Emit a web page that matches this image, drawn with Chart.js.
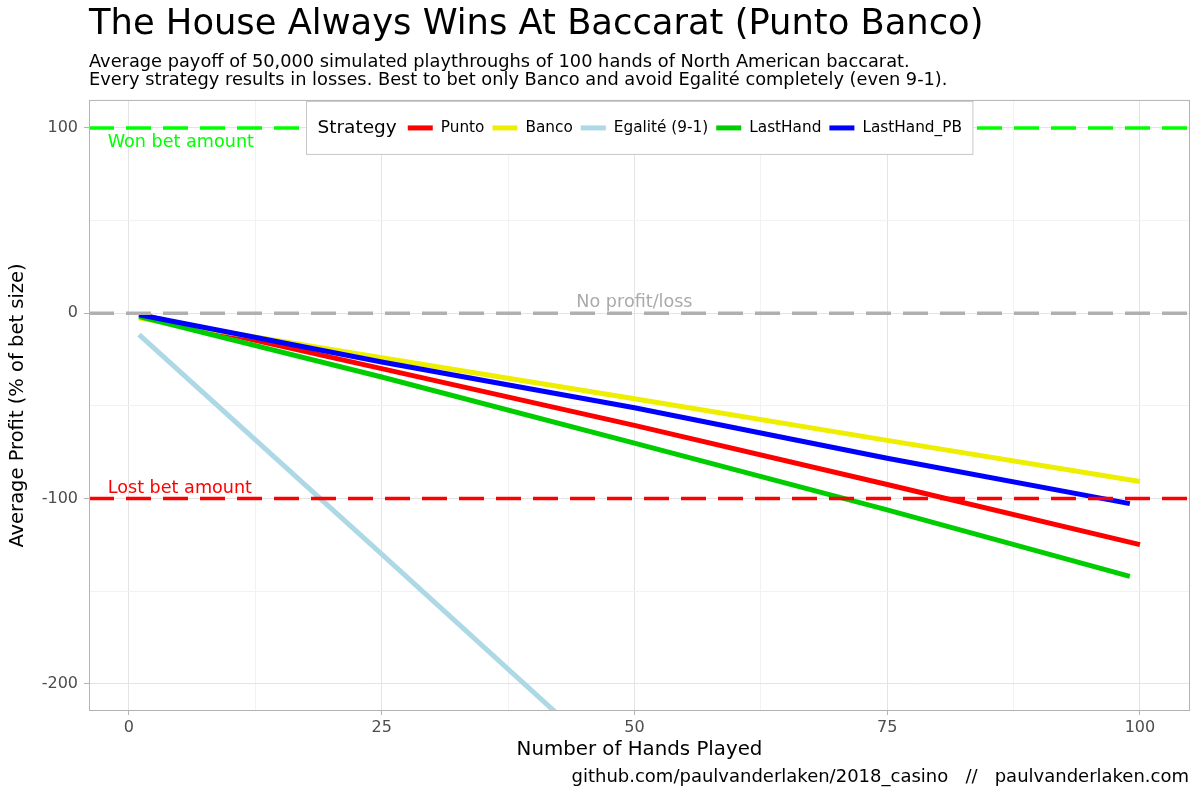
<!DOCTYPE html>
<html>
<head>
<meta charset="utf-8">
<script src="https://cdn.jsdelivr.net/npm/chart.js@4.4.1/dist/chart.umd.min.js"></script>
<style>
  html, body { margin: 0; padding: 0; background: #fff; }
  canvas { display: block; }
</style>
</head>
<body>
<canvas id="casino" width="1200" height="800"></canvas>
<script>
// strategies and their average profit (% of bet size)
const strategies = ['Punto', 'Banco', 'Egalité (9-1)', 'LastHand', 'LastHand_PB'];
const handsFull = [1, 25, 50, 75, 100];
const handsLast = [1, 25, 50, 75, 99];
const handsEgalite = [1, 25, 50];
const punto = [-0.6, -29.9, -60.5, -92.4, -124.8];
const banco = [-2.6, -24.0, -46.1, -68.6, -90.8];
const egalite = [-11.5, -130, -254];
const lastHand = [-1.8, -34.4, -70.1, -106.1, -142.0];
const lastHandPB = [-0.8, -26.3, -51.0, -78.2, -102.7];

const xTicks = [0, 25, 50, 75, 100];
const xMinor = [12.5, 37.5, 62.5, 87.5];
const yTicks = [-200, -100, 0, 100];
const yMinor = [-150, -50, 50];

const refLines = [100, 0, -100];
const refLabels = ['Won bet amount', 'No profit/loss', 'Lost bet amount'];

const X_MIN = -3.95, X_MAX = 104.95;
const Y_MIN = -214.6, Y_MAX = 115.1;
const FONT = '"DejaVu Sans"';

const toPoints = (xs, ys) => xs.map((x, i) => ({x: x, y: ys[i]}));
const hline = (v) => [{x: X_MIN, y: v}, {x: X_MAX, y: v}];

Chart.defaults.font.family = FONT;
Chart.defaults.color = '#000';

const lineDefaults = {borderWidth: 5, pointRadius: 0, tension: 0, borderCapStyle: 'butt', clip: 0, fill: false};
const refDefaults = {borderWidth: 3.5, pointRadius: 0, borderDash: [25, 12], borderCapStyle: 'butt', clip: 0, fill: false, isRef: true, order: 0};

const extras = {
  id: 'extras',
  afterDatasetsDraw(chart) {
    const {ctx, chartArea: a, scales: {x, y}} = chart;
    ctx.save();

    // labels on the reference lines
    ctx.font = '17.6px ' + FONT;
    ctx.textBaseline = 'middle';
    ctx.textAlign = 'left';
    ctx.fillStyle = '#00ff00';
    ctx.fillText(refLabels[0], x.getPixelForValue(-2.1), y.getPixelForValue(92.3));
    ctx.fillStyle = '#ff0000';
    ctx.fillText(refLabels[2], x.getPixelForValue(-2.1), y.getPixelForValue(-94.4));
    ctx.textAlign = 'center';
    ctx.fillStyle = '#aaaaaa';
    ctx.fillText(refLabels[1], x.getPixelForValue(50), y.getPixelForValue(5.7));

    // legend inside the panel
    const items = chart.data.datasets.filter(d => !d.isRef);
    ctx.font = '18.5px ' + FONT;
    const titleW = ctx.measureText('Strategy').width;
    ctx.font = '15.3px ' + FONT;
    const widths = items.map(d => ctx.measureText(d.label).width);
    let w = 11 + titleW + 11;
    widths.forEach((tw, i) => { w += 25 + 8 + tw + (i < widths.length - 1 ? 8 : 0); });
    w += 11;
    const h = 53;
    const left = Math.round((a.left + a.right) / 2 - w / 2) + 0.5;
    const top = a.top + 1.5;
    ctx.fillStyle = '#ffffff';
    ctx.fillRect(left, top, w, h);
    ctx.strokeStyle = '#c8c8c8';
    ctx.lineWidth = 1;
    ctx.strokeRect(left, top, w, h);
    const cy = top + h / 2;
    ctx.textAlign = 'left';
    ctx.fillStyle = '#000';
    ctx.font = '18.5px ' + FONT;
    let cx = left + 11;
    ctx.fillText('Strategy', cx, cy);
    cx += titleW + 11;
    ctx.font = '15.3px ' + FONT;
    items.forEach((d, i) => {
      ctx.strokeStyle = d.borderColor;
      ctx.lineWidth = 5;
      ctx.beginPath();
      ctx.moveTo(cx, cy);
      ctx.lineTo(cx + 25, cy);
      ctx.stroke();
      cx += 25 + 8;
      ctx.fillStyle = '#000';
      ctx.fillText(d.label, cx, cy);
      cx += widths[i] + 8;
    });

    // panel border
    ctx.strokeStyle = '#b3b3b3';
    ctx.lineWidth = 1;
    ctx.strokeRect(a.left + 0.5, a.top + 0.5, a.width - 1, a.height - 1);
    ctx.restore();
  },
  afterDraw(chart) {
    const ctx = chart.ctx;
    ctx.save();
    ctx.font = '18px ' + FONT;
    ctx.fillStyle = '#000';
    ctx.textAlign = 'right';
    ctx.textBaseline = 'middle';
    ctx.fillText('github.com/paulvanderlaken/2018_casino   //   paulvanderlaken.com', 1189, 777);
    ctx.restore();
  }
};

const isMajorX = (v) => xTicks.includes(v);
const isMajorY = (v) => yTicks.includes(v);

new Chart(document.getElementById('casino'), {
  type: 'line',
  data: {
    datasets: [
      Object.assign({label: 'won', data: hline(refLines[0]), borderColor: '#00ff00'}, refDefaults),
      Object.assign({label: 'even', data: hline(refLines[1]), borderColor: '#b0b0b0'}, refDefaults),
      Object.assign({label: 'lost', data: hline(refLines[2]), borderColor: '#ff0000'}, refDefaults),
      Object.assign({label: strategies[0], data: toPoints(handsFull, punto), borderColor: '#ff0000', order: 5}, lineDefaults),
      Object.assign({label: strategies[1], data: toPoints(handsFull, banco), borderColor: '#eeee00', order: 4}, lineDefaults),
      Object.assign({label: strategies[2], data: toPoints(handsEgalite, egalite), borderColor: '#add8e6', order: 3}, lineDefaults),
      Object.assign({label: strategies[3], data: toPoints(handsLast, lastHand), borderColor: '#00cd00', order: 2}, lineDefaults),
      Object.assign({label: strategies[4], data: toPoints(handsLast, lastHandPB), borderColor: '#0000ff', order: 1}, lineDefaults)
    ]
  },
  options: {
    responsive: false,
    animation: false,
    devicePixelRatio: 1,
    layout: {padding: {left: 0, right: 10, top: 0, bottom: 0}},
    plugins: {
      legend: {display: false},
      tooltip: {enabled: false},
      title: {
        display: true,
        text: 'The House Always Wins At Baccarat (Punto Banco)',
        align: 'start',
        fullSize: false,
        color: '#000',
        font: {size: 35.3, weight: 'normal', lineHeight: 1.2},
        padding: {top: 4, bottom: 0}
      },
      subtitle: {
        display: true,
        text: ['Average payoff of 50,000 simulated playthroughs of 100 hands of North American baccarat.',
               'Every strategy results in losses. Best to bet only Banco and avoid Egalité completely (even 9-1).'],
        align: 'start',
        fullSize: false,
        color: '#000',
        font: {size: 17.8, lineHeight: 1.03},
        padding: {top: 6.8, bottom: 10.1}
      }
    },
    scales: {
      x: {
        type: 'linear',
        min: X_MIN,
        max: X_MAX,
        afterBuildTicks: (axis) => { axis.ticks = xTicks.concat(xMinor).sort((p, q) => p - q).map(v => ({value: v})); },
        afterFit: (scale) => { scale.height = 89; },
        ticks: {
          autoSkip: false, maxRotation: 0, padding: 3,
          color: '#4d4d4d', font: {size: 16},
          callback: (v) => isMajorX(v) ? String(v) : ''
        },
        grid: {
          color: (c) => c.tick && isMajorX(c.tick.value) ? '#e4e4e4' : '#f2f2f2',
          tickColor: (c) => c.tick && isMajorX(c.tick.value) ? '#b3b3b3' : 'rgba(0,0,0,0)',
          tickLength: 4,
          lineWidth: 1
        },
        border: {display: false},
        title: {display: true, text: 'Number of Hands Played', color: '#000', font: {size: 19.8}, padding: {top: 0, bottom: 38.3}}
      },
      y: {
        type: 'linear',
        min: Y_MIN,
        max: Y_MAX,
        afterBuildTicks: (axis) => { axis.ticks = yTicks.concat(yMinor).sort((p, q) => p - q).map(v => ({value: v})); },
        afterFit: (scale) => { scale.width = 89; },
        ticks: {
          autoSkip: false, padding: 6,
          color: '#4d4d4d', font: {size: 16},
          callback: (v) => isMajorY(v) ? String(v) : ''
        },
        grid: {
          color: (c) => c.tick && isMajorY(c.tick.value) ? '#e4e4e4' : '#f2f2f2',
          tickColor: (c) => c.tick && isMajorY(c.tick.value) ? '#b3b3b3' : 'rgba(0,0,0,0)',
          tickLength: 5,
          lineWidth: 1
        },
        border: {display: false},
        title: {display: true, text: 'Average Profit (% of bet size)', color: '#000', font: {size: 19.5}, padding: {top: 6.3, bottom: 0}}
      }
    }
  },
  plugins: [extras]
});
</script>
</body>
</html>
